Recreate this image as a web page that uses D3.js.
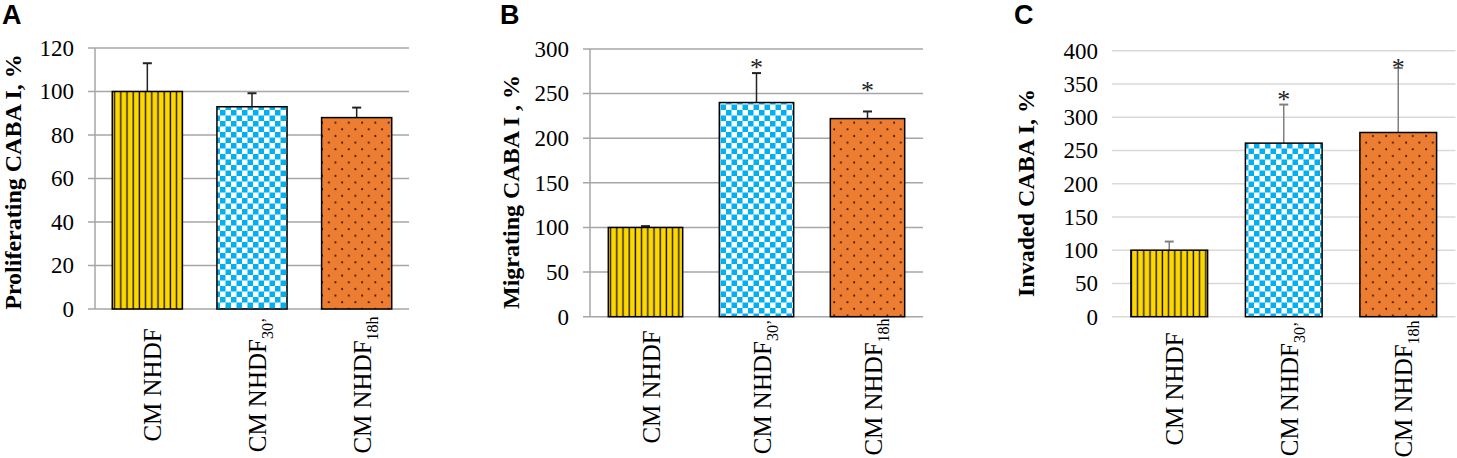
<!DOCTYPE html>
<html>
<head>
<meta charset="utf-8">
<script src="https://cdn.jsdelivr.net/npm/d3@7"></script>
<style>
  body { margin: 0; background: #fff; }
  svg { display: block; }
</style>
</head>
<body>
<div id="main"></div>
<script>
// data
var categories = ["CM NHDF", "CM NHDF", "CM NHDF"];
var categorySubs = ["", "30\u2019", "18h"];

var proliferating = [100, 93, 88];
var proliferatingErr = [13, 6.2, 4.6];
var migrating = [100, 240, 222];
var migratingErr = [1.5, 33, 8];
var invaded = [100, 261, 277];
var invadedErr = [13, 58, 97];

var ticksA = [0, 20, 40, 60, 80, 100, 120];
var ticksB = [0, 50, 100, 150, 200, 250, 300];
var ticksC = [0, 50, 100, 150, 200, 250, 300, 350, 400];

// value at which the significance asterisk sits
var starsB = [null, 284, 259];
var starsC = [null, 333, 382];

var fills = ["url(#stripes)", "url(#checker)", "url(#dots)"];

var ctx = { w: 1457, h: 458 };

var panels = [
    {
        letter: "A", letterX: 2, title: "Proliferating CABA I, %", titleX: 20.5, titleY: 182,
        values: proliferating, errors: proliferatingErr, ticks: ticksA, stars: null,
        left: 95, right: 409, gridLeft: 88, top: 48, bottom: 309, labelY: 385,
        axisLine: true, gridColor: "#a6a6a6", errColor: "#222"
    },
    {
        letter: "B", letterX: 500, title: "Migrating CABA I , %", titleX: 519, titleY: 192,
        values: migrating, errors: migratingErr, ticks: ticksB, stars: starsB,
        left: 590, right: 923, gridLeft: 583, top: 49, bottom: 316.7, labelY: 387,
        axisLine: true, gridColor: "#a6a6a6", errColor: "#222"
    },
    {
        letter: "C", letterX: 1014, title: "Invaded CABA I, %", titleX: 1034, titleY: 193,
        values: invaded, errors: invadedErr, ticks: ticksC, stars: starsC,
        left: 1112, right: 1455.5, gridLeft: 1112, top: 50.7, bottom: 316.7, labelY: 389,
        axisLine: false, gridColor: "#d9d9d9", errColor: "#808080"
    }
];

var createViz = function () {
    var svg = d3.select("#main").append("svg")
        .attr("width", ctx.w)
        .attr("height", ctx.h);
    makePatterns(svg);
    panels.forEach(function (p) {
        drawPanel(svg, p);
    });
};

var makePatterns = function (svg) {
    var defs = svg.append("defs");

    var stripes = defs.append("pattern")
        .attr("id", "stripes")
        .attr("patternUnits", "userSpaceOnUse")
        .attr("width", 6.2)
        .attr("height", 10);
    stripes.append("rect").attr("width", 6.2).attr("height", 10).attr("fill", "#FFD700");
    stripes.append("line")
        .attr("x1", 3).attr("x2", 3).attr("y1", 0).attr("y2", 10)
        .attr("stroke", "#1a1a1a").attr("stroke-width", 1.4);

    var checker = defs.append("pattern")
        .attr("id", "checker")
        .attr("patternUnits", "userSpaceOnUse")
        .attr("width", 11)
        .attr("height", 11);
    checker.append("rect").attr("width", 11).attr("height", 11).attr("fill", "#fff");
    checker.append("rect").attr("width", 5.5).attr("height", 5.5).attr("fill", "#00B0F0");
    checker.append("rect").attr("x", 5.5).attr("y", 5.5)
        .attr("width", 5.5).attr("height", 5.5).attr("fill", "#00B0F0");

    var dots = defs.append("pattern")
        .attr("id", "dots")
        .attr("patternUnits", "userSpaceOnUse")
        .attr("width", 13.3)
        .attr("height", 13.3);
    dots.append("rect").attr("width", 13.3).attr("height", 13.3).attr("fill", "#ED7D31");
    dots.append("circle").attr("cx", 3).attr("cy", 3).attr("r", 1).attr("fill", "#2b1405");
    dots.append("circle").attr("cx", 9.65).attr("cy", 9.65).attr("r", 1).attr("fill", "#2b1405");
};

var drawPanel = function (svg, p) {
    var g = svg.append("g");
    var idx = d3.range(p.values.length);

    var x = d3.scaleBand()
        .domain(idx)
        .range([p.left, p.right])
        .paddingInner(0.33)
        .paddingOuter(0.165);

    var y = d3.scaleLinear()
        .domain([0, d3.max(p.ticks)])
        .range([p.bottom, p.top]);

    // gridlines
    g.append("g")
        .selectAll("line")
        .data(p.ticks)
        .enter()
        .append("line")
        .attr("x1", p.gridLeft)
        .attr("x2", p.right)
        .attr("y1", function (d) { return y(d); })
        .attr("y2", function (d) { return y(d); })
        .attr("stroke", p.gridColor)
        .attr("stroke-width", 1.5);

    if (p.axisLine) {
        g.append("line")
            .attr("x1", p.left).attr("x2", p.left)
            .attr("y1", y(d3.max(p.ticks))).attr("y2", y(0))
            .attr("stroke", p.gridColor)
            .attr("stroke-width", 1.5);
    }

    // tick labels
    var axis = g.append("g")
        .attr("transform", "translate(" + p.left + ",0)")
        .call(d3.axisLeft(y).tickValues(p.ticks).tickSize(0).tickPadding(p.left - p.gridLeft + 14));
    axis.select(".domain").remove();
    axis.selectAll("text")
        .attr("font-family", "'Liberation Serif', 'Times New Roman', serif")
        .attr("font-size", 23)
        .attr("fill", "#000");

    // error bars (upper only)
    var eb = g.append("g")
        .selectAll("g")
        .data(idx)
        .enter()
        .append("g")
        .attr("stroke", p.errColor)
        .attr("stroke-width", 1.5);
    eb.append("line")
        .attr("x1", function (i) { return x(i) + x.bandwidth() / 2; })
        .attr("x2", function (i) { return x(i) + x.bandwidth() / 2; })
        .attr("y1", function (i) { return y(p.values[i]); })
        .attr("y2", function (i) { return y(p.values[i] + p.errors[i]); });
    eb.append("line")
        .attr("x1", function (i) { return x(i) + x.bandwidth() / 2 - 4.5; })
        .attr("x2", function (i) { return x(i) + x.bandwidth() / 2 + 4.5; })
        .attr("y1", function (i) { return y(p.values[i] + p.errors[i]); })
        .attr("y2", function (i) { return y(p.values[i] + p.errors[i]); })
        .attr("stroke-width", 2);

    // bars
    g.append("g")
        .selectAll("rect")
        .data(idx)
        .enter()
        .append("rect")
        .attr("x", function (i) { return x(i); })
        .attr("y", function (i) { return y(p.values[i]); })
        .attr("width", x.bandwidth())
        .attr("height", function (i) { return y(0) - y(p.values[i]); })
        .attr("fill", function (i) { return fills[i]; })
        .attr("stroke", "#000")
        .attr("stroke-width", 1.5);

    // asterisks
    if (p.stars) {
        g.append("g")
            .selectAll("text")
            .data(idx.filter(function (i) { return p.stars[i] !== null; }))
            .enter()
            .append("text")
            .attr("x", function (i) { return x(i) + x.bandwidth() / 2; })
            .attr("y", function (i) { return y(p.stars[i]) + 13; })
            .attr("text-anchor", "middle")
            .attr("font-family", "'Liberation Serif', 'Times New Roman', serif")
            .attr("font-size", 26)
            .attr("fill", "#222")
            .text("*");
    }

    // category labels, rotated
    var lab = g.append("g")
        .selectAll("text")
        .data(idx)
        .enter()
        .append("text")
        .attr("transform", function (i) {
            return "translate(" + (x(i) + x.bandwidth() / 2 + 14) + "," + p.labelY + ") rotate(-90)";
        })
        .attr("text-anchor", "middle")
        .attr("font-family", "'Liberation Serif', 'Times New Roman', serif")
        .attr("font-size", 25)
        .attr("fill", "#000");
    lab.append("tspan").text(function (i) { return categories[i]; });
    lab.append("tspan")
        .attr("font-size", 16)
        .attr("dy", 7)
        .text(function (i) { return categorySubs[i]; });

    // y title
    g.append("text")
        .attr("transform", "translate(" + p.titleX + "," + p.titleY + ") rotate(-90)")
        .attr("text-anchor", "middle")
        .attr("font-family", "'Liberation Serif', 'Times New Roman', serif")
        .attr("font-weight", "bold")
        .attr("font-size", 24)
        .attr("fill", "#000")
        .text(p.title);

    // panel letter
    g.append("text")
        .attr("x", p.letterX)
        .attr("y", 24)
        .attr("font-family", "'Liberation Sans', Arial, sans-serif")
        .attr("font-weight", "bold")
        .attr("font-size", 27)
        .attr("fill", "#000")
        .text(p.letter);
};

createViz();
</script>
</body>
</html>
